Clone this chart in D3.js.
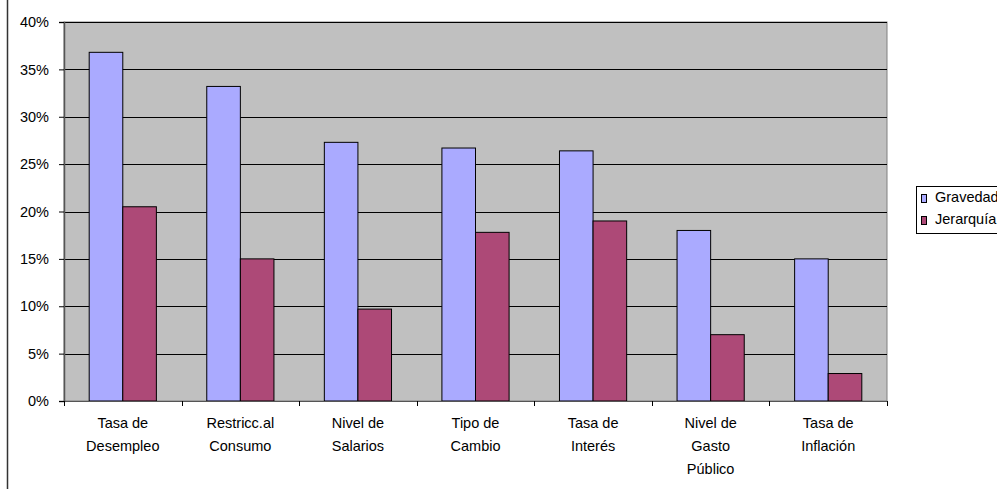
<!DOCTYPE html>
<html>
<head>
<meta charset="utf-8">
<script src="https://cdn.jsdelivr.net/npm/d3@7"></script>
<style>
  body { margin: 0; background: #fff; }
  svg { display: block; font-family: "Liberation Sans", Arial, sans-serif; }
</style>
</head>
<body>
<div id="chart"></div>
<script>
// Chart data
const categories = [
  ["Tasa de", "Desempleo"],
  ["Restricc.al", "Consumo"],
  ["Nivel de", "Salarios"],
  ["Tipo de", "Cambio"],
  ["Tasa de", "Interés"],
  ["Nivel de", "Gasto", "Público"],
  ["Tasa de", "Inflación"]
];
const seriesNames = ["Gravedad", "Jerarquía"];
const gravedad = [36.8, 33.2, 27.3, 26.7, 26.4, 18.0, 15.0];
const jerarquia = [20.5, 15.0, 9.7, 17.8, 19.0, 7.0, 2.9];
const yTicks = [0, 5, 10, 15, 20, 25, 30, 35, 40];
const colors = ["#aaaaff", "#ad4977"];

const W = 997, H = 489;
const plot = { left: 64, top: 22, right: 887, bottom: 401 };
const fontSize = "14.5px";

const svg = d3.select("#chart").append("svg")
  .attr("width", W)
  .attr("height", H);

// chart area border (only left edge visible in the crop)
svg.append("line")
  .attr("x1", 7.5).attr("x2", 7.5)
  .attr("y1", 0).attr("y2", H)
  .attr("stroke", "#333")
  .attr("stroke-width", 1.5);

const catKeys = categories.map((c, i) => i);

const x0 = d3.scaleBand()
  .domain(catKeys)
  .range([plot.left, plot.right])
  .padding(0);

// Excel gap width 150% => 0.75 bar on each side
const x1 = d3.scaleBand()
  .domain(seriesNames)
  .range([0, x0.bandwidth()])
  .paddingInner(0)
  .paddingOuter(0.75);

const y = d3.scaleLinear()
  .domain([0, 40])
  .range([plot.bottom, plot.top]);

// plot area background
svg.append("rect")
  .attr("x", plot.left)
  .attr("y", plot.top)
  .attr("width", plot.right - plot.left)
  .attr("height", plot.bottom - plot.top)
  .attr("fill", "#c0c0c0")
  .attr("stroke", "#808080")
  .attr("stroke-width", 1);

// grid lines
svg.append("g")
  .attr("class", "grid")
  .selectAll("line")
  .data(yTicks.filter(d => d > 0))
  .enter().append("line")
  .attr("x1", plot.left)
  .attr("x2", plot.right)
  .attr("y1", d => Math.round(y(d)) + 0.5)
  .attr("y2", d => Math.round(y(d)) + 0.5)
  .attr("stroke", "#000")
  .attr("stroke-width", 1);

// bars
const rows = catKeys.map(i => ({ i, values: [gravedad[i], jerarquia[i]] }));

const groups = svg.append("g")
  .selectAll("g")
  .data(rows)
  .enter().append("g")
  .attr("transform", d => `translate(${x0(d.i)},0)`);

groups.selectAll("rect")
  .data(d => d.values.map((v, k) => ({ key: seriesNames[k], value: v, k })))
  .enter().append("rect")
  .attr("x", d => x1(d.key))
  .attr("y", d => y(d.value))
  .attr("width", x1.bandwidth())
  .attr("height", d => plot.bottom - y(d.value))
  .attr("fill", d => colors[d.k])
  .attr("stroke", "#000")
  .attr("stroke-width", 1);

// y axis
const yAxis = svg.append("g")
  .attr("transform", `translate(${plot.left},0)`)
  .call(d3.axisLeft(y)
    .tickValues(yTicks)
    .tickSize(5)
    .tickPadding(10)
    .tickFormat(d => d + "%"));

yAxis.select(".domain").attr("stroke", "#555").attr("stroke-width", 1.5);
yAxis.selectAll(".tick line").attr("stroke", "#000");
yAxis.selectAll("text")
  .style("font-size", fontSize)
  .style("font-family", "Liberation Sans, Arial, sans-serif")
  .attr("fill", "#000");

// x axis with ticks at category boundaries
const xAxis = svg.append("g")
  .attr("transform", `translate(0,${plot.bottom})`);

xAxis.append("line")
  .attr("x1", plot.left).attr("x2", plot.right)
  .attr("y1", 0.5).attr("y2", 0.5)
  .attr("stroke", "#555");

xAxis.selectAll(".tick")
  .data(d3.range(categories.length + 1))
  .enter().append("line")
  .attr("class", "tick")
  .attr("x1", d => Math.round(plot.left + d * x0.step()) + 0.5)
  .attr("x2", d => Math.round(plot.left + d * x0.step()) + 0.5)
  .attr("y1", 0)
  .attr("y2", 5)
  .attr("stroke", "#000");

const labels = xAxis.selectAll(".cat")
  .data(rows)
  .enter().append("text")
  .attr("class", "cat")
  .attr("x", d => x0(d.i) + x0.bandwidth() / 2)
  .attr("y", 27)
  .attr("text-anchor", "middle")
  .style("font-size", fontSize)
  .attr("fill", "#000");

labels.selectAll("tspan")
  .data(d => categories[d.i])
  .enter().append("tspan")
  .attr("x", function() { return d3.select(this.parentNode).attr("x"); })
  .attr("dy", (d, j) => j === 0 ? 0 : 23)
  .text(d => d);

// legend
const legend = svg.append("g")
  .attr("transform", "translate(916,186)");

legend.append("rect")
  .attr("x", 0.5).attr("y", 0.5)
  .attr("width", 100).attr("height", 47)
  .attr("fill", "#fff")
  .attr("stroke", "#000");

const items = legend.selectAll(".item")
  .data(seriesNames)
  .enter().append("g")
  .attr("class", "item")
  .attr("transform", (d, i) => `translate(0,${i * 22})`);

items.append("rect")
  .attr("x", 5.5).attr("y", 8.5)
  .attr("width", 5).attr("height", 8)
  .attr("fill", (d, i) => colors[i])
  .attr("stroke", "#000");

items.append("text")
  .attr("x", 19)
  .attr("y", 16)
  .style("font-size", fontSize)
  .attr("fill", "#000")
  .text(d => d);
</script>
</body>
</html>
